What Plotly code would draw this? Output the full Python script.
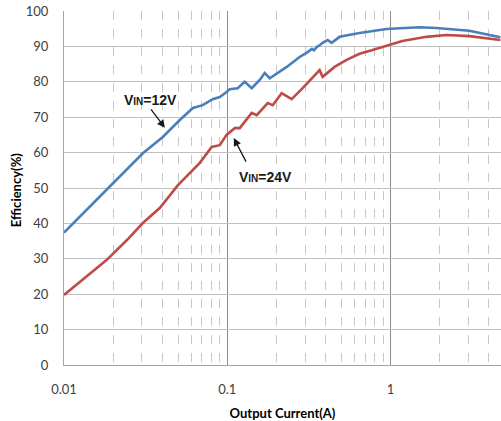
import numpy as np
import plotly.graph_objects as go

# Output current (A) and efficiency (%)
i_12v = [0.01, 0.01504, 0.02, 0.0304, 0.0403, 0.0512, 0.0616, 0.0707, 0.0814,
         0.0900, 0.099, 0.1036, 0.1159, 0.1279, 0.1412, 0.1581, 0.1696, 0.1820,
         0.2312, 0.2776, 0.3107, 0.330, 0.340, 0.3527, 0.3700, 0.3838, 0.4118,
         0.4357, 0.4876, 0.5615, 0.6462, 0.945, 1.50, 1.91, 3.04, 4.71]
eff_12v = [37.4, 45.7, 51.3, 59.8, 64.4, 69.2, 72.6, 73.4, 75.1,
           75.7, 77.1, 77.9, 78.2, 80.0, 78.2, 80.5, 82.5, 81.0,
           84.2, 87.0, 88.4, 89.3, 88.9, 89.8, 90.4, 91.0, 91.8,
           91.0, 92.7, 93.2, 93.8, 94.9, 95.4, 95.2, 94.4, 92.6]

i_24v = [0.01, 0.0183, 0.0243, 0.0304, 0.0387, 0.0499, 0.0679, 0.0803, 0.0900,
         0.099, 0.1111, 0.1193, 0.1412, 0.1515, 0.1769, 0.1898, 0.2154, 0.2312,
         0.2480, 0.2896, 0.3679, 0.3838, 0.4545, 0.5382, 0.6462, 0.776, 0.986,
         1.18, 1.66, 2.20, 3.04, 4.71]
eff_24v = [19.8, 29.7, 35.3, 40.1, 44.4, 50.8, 57.1, 61.6, 62.1,
           65.0, 66.9, 66.9, 71.2, 70.6, 74.0, 73.4, 76.8, 76.0,
           75.1, 78.2, 83.3, 81.4, 84.2, 86.2, 87.9, 89.0, 90.4,
           91.5, 92.7, 93.2, 92.9, 91.8]

y_ticks = list(range(0, 101, 10))
x_tickvals = [0.01, 0.1, 1]
x_ticktext = ["0.01", "0.1", "1"]

fig = go.Figure()
fig.add_trace(go.Scatter(x=i_12v, y=eff_12v, mode="lines",
                         line=dict(color="#4a7ebb", width=2.6), name="VIN=12V"))
fig.add_trace(go.Scatter(x=i_24v, y=eff_24v, mode="lines",
                         line=dict(color="#be4b48", width=2.6), name="VIN=24V"))

tick_font = dict(family="Lato, Open Sans, sans-serif", size=13, color="#404040")
title_font = dict(family="Lato, Open Sans, sans-serif", size=13, color="#000000")

fig.update_layout(
    width=501, height=421,
    margin=dict(l=64, r=0, t=11, b=56, autoexpand=False),
    paper_bgcolor="white", plot_bgcolor="white",
    showlegend=False,
    xaxis=dict(
        type="log", range=[-2, np.log10(4.75)], automargin=False,
        tickvals=x_tickvals, ticktext=x_ticktext,
        showgrid=True, gridcolor="#8c8c8c", gridwidth=1,
        showline=True, linecolor="#a6a6a6", linewidth=1,
        ticks="", ticklabelstandoff=12, tickfont=tick_font,
        minor=dict(dtick="D1", showgrid=True, gridcolor="#c8c8c8",
                   griddash="dash", gridwidth=1, ticks=""),
        title=dict(text="<b>Output Current(A)</b>", font=title_font, standoff=14),
        zeroline=False,
    ),
    yaxis=dict(
        range=[0, 100], tickvals=y_ticks, automargin=False,
        showgrid=True, gridcolor="#bfbfbf", gridwidth=1,
        showline=True, linecolor="#a6a6a6", linewidth=1,
        ticks="", ticklabelstandoff=12, tickfont=tick_font,
        zeroline=False,
    ),
)

# y-axis title placed as rotated text
fig.add_annotation(x=-0.1098, y=0.494, xref="paper", yref="paper",
                   text="<b>Efficiency(%)</b>", textangle=-90, showarrow=False,
                   font=title_font, xanchor="center", yanchor="middle")

ann_font = dict(family="Liberation Sans, Arial, sans-serif", size=14, color="#1a1a1a")
fig.add_annotation(x=-1.382, y=67, xref="x", yref="y", ax=-15, ay=-20,
                   text="", showarrow=True, arrowhead=2, arrowsize=1.2,
                   arrowwidth=1.3, arrowcolor="#1a1a1a")
fig.add_annotation(x=-1.468, y=74.9, xref="x", yref="y", showarrow=False,
                   text="<b>V<span style='font-size:10px'>IN</span>=12V</b>",
                   font=ann_font)
fig.add_annotation(x=-0.960, y=64.1, xref="x", yref="y", ax=13, ay=25,
                   text="", showarrow=True, arrowhead=2, arrowsize=1.2,
                   arrowwidth=1.3, arrowcolor="#1a1a1a")
fig.add_annotation(x=-0.765, y=53.1, xref="x", yref="y", showarrow=False,
                   text="<b>V<span style='font-size:10px'>IN</span>=24V</b>",
                   font=ann_font)

fig.write_html("out.html", config={"displayModeBar": False},
               post_script="document.body.style.margin='0';"
                           "document.body.style.overflow='hidden';")
